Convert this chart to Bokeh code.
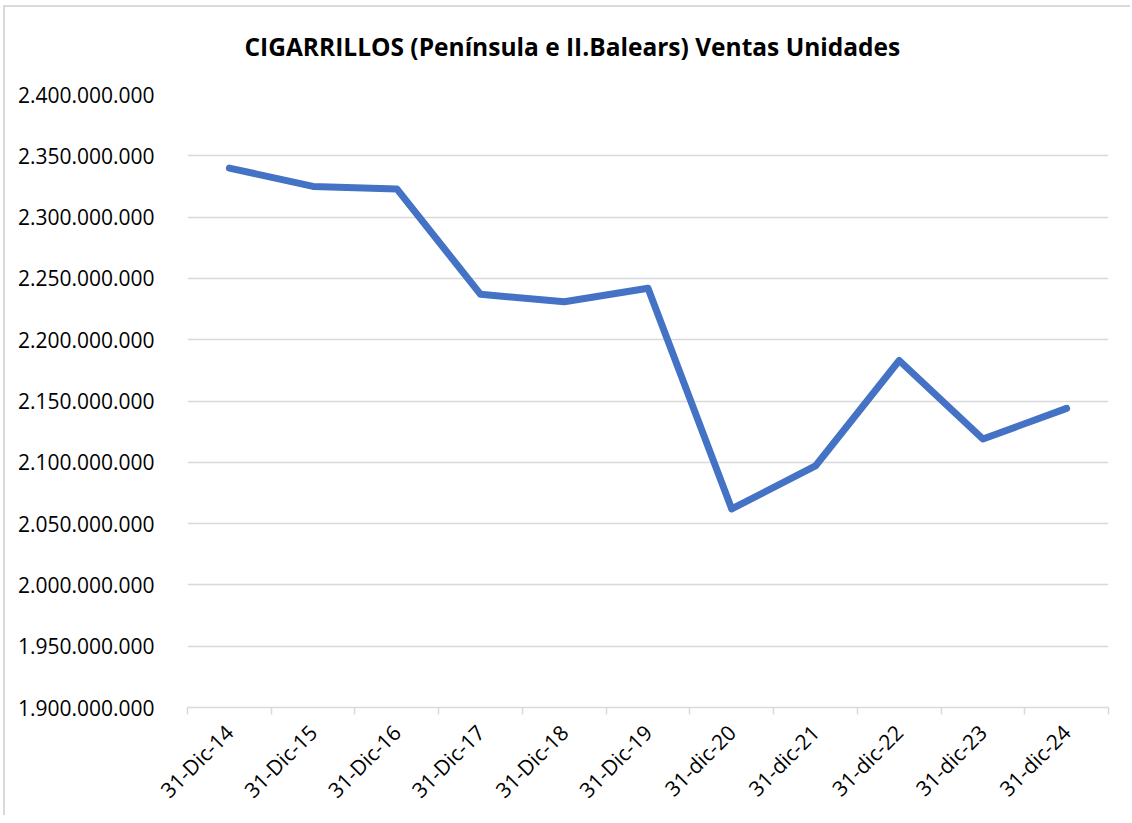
from bokeh.plotting import figure
from bokeh.models import FixedTicker, Range1d, Title
from bokeh.embed import file_html
from bokeh.resources import INLINE
import math

categories = ["31-Dic-14", "31-Dic-15", "31-Dic-16", "31-Dic-17", "31-Dic-18", "31-Dic-19",
              "31-dic-20", "31-dic-21", "31-dic-22", "31-dic-23", "31-dic-24"]
ventas = [2340000000, 2325000000, 2323000000, 2237000000, 2231000000, 2242000000,
          2062000000, 2097000000, 2183000000, 2119000000, 2144000000]
y_ticks = [1900000000, 1950000000, 2000000000, 2050000000, 2100000000, 2150000000,
           2200000000, 2250000000, 2300000000, 2350000000, 2400000000]
y_tick_labels = ["1.900.000.000", "1.950.000.000", "2.000.000.000", "2.050.000.000",
                 "2.100.000.000", "2.150.000.000", "2.200.000.000", "2.250.000.000",
                 "2.300.000.000", "2.350.000.000", "2.400.000.000"]
title_text = "CIGARRILLOS  (Península e II.Balears) Ventas Unidades"

FONT = "Open Sans"
n = len(categories)
xs = [i + 0.5 for i in range(n)]

p = figure(width=1127, height=810, output_backend="svg", toolbar_location=None,
           title=None,
           x_range=Range1d(0, n), y_range=Range1d(1900000000, 2400000000),
           min_border_left=182, min_border_right=24, min_border_top=87, min_border_bottom=110)
p.margin = (5, 0, 0, 3)
p.styles = {"border-top": "2px solid #d9d9d9", "border-left": "2px solid #d9d9d9"}
p.outline_line_color = None
p.background_fill_color = "white"
p.border_fill_color = "white"

p.line(xs, ventas, line_color="#4472C4", line_width=7, line_cap="round", line_join="round")

# spacer between frame and title (nearest to the frame)
spacer = Title(text=" ", text_font_size="1px", standoff=24)
p.add_layout(spacer, "above")

# title
main_title = Title(text=title_text, align="left", offset=57, standoff=10,
                   text_font=FONT, text_font_size="24.5px", text_font_style="bold",
                   text_color="#000000")
p.add_layout(main_title, "above")

# y axis
p.yaxis.ticker = FixedTicker(ticks=y_ticks)
p.yaxis.major_label_overrides = {t: l for t, l in zip(y_ticks, y_tick_labels)}
p.yaxis.axis_line_color = None
p.yaxis.major_tick_line_color = None
p.yaxis.minor_tick_line_color = None
p.yaxis.major_label_standoff = 27
p.yaxis.major_label_text_font = FONT
p.yaxis.major_label_text_font_size = "21px"
p.yaxis.major_label_text_color = "#000000"

p.ygrid.ticker = FixedTicker(ticks=y_ticks)
p.ygrid.grid_line_color = "#d9d9d9"
p.ygrid.grid_line_width = 1.5
p.xgrid.grid_line_color = None

# x axis
p.xaxis.ticker = FixedTicker(ticks=xs, minor_ticks=list(range(n + 1)))
p.xaxis.major_label_overrides = {x: c for x, c in zip(xs, categories)}
p.xaxis.major_tick_line_color = None
p.xaxis.minor_tick_line_color = "#d9d9d9"
p.xaxis.minor_tick_line_width = 1.5
p.xaxis.minor_tick_in = 0
p.xaxis.minor_tick_out = 7
p.xaxis.axis_line_color = "#d9d9d9"
p.xaxis.axis_line_width = 1.5
p.xaxis.major_label_orientation = math.pi / 4
p.xaxis.major_label_standoff = 14
p.xaxis.major_label_text_font = FONT
p.xaxis.major_label_text_font_size = "21px"
p.xaxis.major_label_text_color = "#000000"

open("out.html", "w").write(file_html(p, INLINE))
